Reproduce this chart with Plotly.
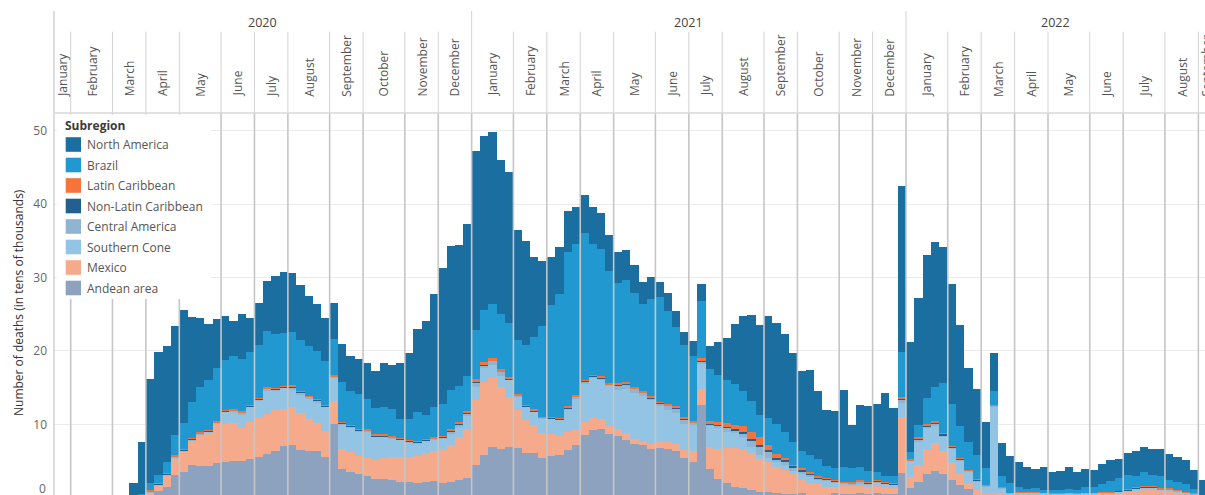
import plotly.graph_objects as go

# ---------------- data (weekly, in tens of thousands of deaths) ----------------
years = ["2020", "2021", "2022"]
month_names = ["January", "February", "March", "April", "May", "June", "July",
               "August", "September", "October", "November", "December"]
month_labels = month_names + month_names + month_names[:9]
weeks_per_month = [2, 5, 4, 4, 5, 4, 4, 5, 4, 5, 4, 4,
                   5, 4, 4, 4, 5, 4, 4, 5, 4, 5, 4, 4,
                   5, 4, 4, 4, 5, 4, 5, 4, 4]

andean = [0, 0, 0, 0, 0, 0, 0, 0, 0, 0,
          0.1, 0.4, 0.97, 1.46, 3.1, 3.55, 4.46, 4.3, 4.33, 4.78,
          4.9, 5.05, 5.05, 5.28, 5.6, 5.96, 6.37, 7.05, 7.2, 6.5,
          6.37, 6.37, 5.6, 10.0, 3.92, 3.46, 3.24, 3.0, 2.6, 2.5,
          2.4, 2.2, 2.2, 2.05, 2.2, 2.28, 2.05, 2.19, 2.42, 2.64,
          4.46, 5.82, 6.96, 6.64, 6.87, 6.73, 6.14, 6.05, 5.37, 5.69,
          5.82, 6.5, 7.18, 8.55, 9.23, 9.32, 8.68, 8.41, 7.87, 7.32,
          7.18, 6.64, 6.73, 6.6, 6.37, 5.46, 4.91, 12.63, 3.91, 2.5,
          2.05, 1.5, 1.28, 1.05, 0.73, 0.82, 0.6, 0.5, 0.5, 0.6,
          0.4, 0.37, 0.37, 0.6, 0.5, 0.5, 0.6, 0.5, 0.6, 0.5,
          0.45, 3.41, 1.28, 2.1, 3.23, 3.69, 3.23, 2.41, 1.73, 1.14,
          0.4, 0.2, 0.3, 0.3, 0.2, 0.2, 0.2, 0.2, 0.2, 0.2,
          0.2, 0.2, 0.2, 0.2, 0.2, 0.25, 0.25, 0.25, 0.3, 0.35,
          0.35, 0.35, 0.3, 0.3, 0.25, 0.2, 0.15, 0.05]

mexico = [0, 0, 0, 0, 0, 0, 0, 0, 0, 0,
          0.1, 0.25, 0.72, 1.56, 2.3, 2.75, 3.3, 4.2, 4.5, 5.3,
          5.1, 5.1, 4.5, 5.1, 5.3, 5.5, 5.6, 5.1, 5.2, 5.0,
          4.3, 3.8, 3.5, 3.18, 2.72, 2.8, 2.5, 2.5, 2.5, 2.9,
          3.1, 3.3, 3.4, 3.68, 3.85, 4.1, 4.45, 5.0, 5.9, 6.7,
          8.85, 10.0, 9.4, 8.5, 6.9, 5.2, 4.45, 3.86, 3.4, 3.0,
          2.6, 2.5, 2.15, 1.8, 1.6, 1.36, 1.1, 0.9, 0.9, 0.64,
          0.46, 0.68, 0.9, 1.0, 0.95, 1.04, 1.5, 2.14, 3.04, 4.1,
          4.77, 5.3, 5.2, 5.0, 4.5, 4.1, 3.6, 3.3, 2.7, 1.8,
          1.56, 1.45, 1.13, 0.9, 1.2, 1.1, 1.0, 1.0, 1.0, 1.0,
          0.9, 7.6, 1.5, 2.36, 3.37, 3.7, 3.1, 2.37, 1.68, 0.82,
          0.65, 0.3, 0.3, 0.3, 0.2, 0.3, 0.3, 0.3, 0.3, 0.25,
          0.25, 0.3, 0.25, 0.3, 0.3, 0.35, 0.3, 0.4, 0.5, 0.6,
          0.7, 0.7, 0.5, 0.45, 0.4, 0.3, 0.2, 0.05]

southern_cone = [0, 0, 0, 0, 0, 0, 0, 0, 0, 0,
                 0, 0.1, 0.05, 0.1, 0.1, 0.1, 0.1, 0.1, 0.15, 0.1,
                 1.7, 1.66, 1.7, 2.0, 2.3, 3.1, 2.7, 2.8, 2.3, 2.6,
                 2.9, 2.85, 3.3, 3.18, 3.4, 3.3, 3.3, 3.5, 3.2, 2.95,
                 2.6, 2.4, 1.9, 1.7, 1.75, 1.6, 1.6, 1.5, 1.36, 1.9,
                 1.8, 1.8, 1.7, 1.45, 2.3, 1.8, 1.8, 1.8, 2.05, 2.1,
                 2.2, 2.95, 4.2, 5.2, 5.6, 5.4, 5.45, 5.3, 6.1, 6.35,
                 6.2, 6.0, 5.0, 4.3, 4.2, 3.6, 3.5, 3.5, 2.85, 2.95,
                 2.2, 2.05, 1.8, 0.9, 0.6, 0.5, 0.7, 0.7, 0.5, 0.8,
                 0.9, 0.6, 0.8, 0.6, 0.25, 0.25, 0.4, 0.35, 0.45, 0.4,
                 0.4, 1.9, 2.25, 3.2, 2.9, 2.4, 2.05, 1.95, 1.7, 1.6,
                 1.2, 1.0, 11.8, 0.7, 0.2, 0.2, 0.15, 0.15, 0.1, 0.1,
                 0.1, 0.1, 0.1, 0.1, 0.1, 0.1, 0.1, 0.2, 0.2, 0.3,
                 0.35, 0.35, 0.3, 0.35, 0.25, 0.2, 0.15, 0.05]

central_america = [0, 0, 0, 0, 0, 0, 0, 0, 0, 0,
                   0, 0.05, 0.05, 0.05, 0.05, 0.05, 0.1, 0.1, 0.05, 0.05,
                   0.1, 0.05, 0.3, 0.05, 0.15, 0.25, 0.1, 0.05, 0.3, 0.25,
                   0.15, 0.2, 0.05, 0.1, 0.1, 0.15, 0.15, 0.1, 0.05, 0.05,
                   0.05, 0.05, 0.15, 0.1, 0.05, 0.05, 0.1, 0.3, 0.35, 0.25,
                   0.6, 0.45, 0.6, 0.55, 0.1, 0.15, 0.05, 0.1, 0.05, 0.05,
                   0.05, 0.2, 0.2, 0.3, 0.1, 0.2, 0.15, 0.7, 0.6, 0.5,
                   0.45, 0.15, 0.2, 0.6, 0.7, 0.6, 0.3, 0.3, 0.2, 0.3,
                   0.5, 0.35, 0.5, 0.8, 1.1, 0.9, 0.35, 0.4, 0.3, 0.35,
                   0.25, 0.25, 0.15, 0.1, 0.1, 0.1, 0.15, 0.15, 0.15, 0.1,
                   0.1, 0.45, 0.05, 0.25, 0.25, 0.3, 0.15, 0.1, 0.1, 0.1,
                   0.1, 0.1, 0.1, 0.05, 0.05, 0.05, 0.05, 0.05, 0.05, 0.05,
                   0.05, 0.05, 0.05, 0.05, 0.05, 0.05, 0.05, 0.05, 0.05, 0.05,
                   0.05, 0.05, 0.05, 0.05, 0.05, 0.05, 0.03, 0.02]

non_latin_caribbean = [0, 0, 0, 0, 0, 0, 0, 0, 0, 0,
                       0.05, 0.1, 0.08, 0.1, 0.1, 0.08, 0.08, 0.08, 0.08, 0.08,
                       0.08, 0.08, 0.08, 0.09, 0.1, 0.1, 0.1, 0.1, 0.15, 0.1,
                       0.1, 0.1, 0.1, 0.1, 0.1, 0.1, 0.1, 0.1, 0.1, 0.1,
                       0.1, 0.1, 0.1, 0.1, 0.08, 0.08, 0.08, 0.13, 0.13, 0.1,
                       0.15, 0.12, 0.1, 0.1, 0.1, 0.1, 0.08, 0.1, 0.08, 0.08,
                       0.08, 0.15, 0.1, 0.1, 0.08, 0.1, 0.08, 0.12, 0.12, 0.12,
                       0.1, 0.1, 0.1, 0.1, 0.1, 0.1, 0.1, 0.1, 0.1, 0.1,
                       0.15, 0.1, 0.15, 0.2, 0.25, 0.2, 0.15, 0.2, 0.35, 0.25,
                       0.15, 0.1, 0.1, 0.1, 0.05, 0.05, 0.1, 0.1, 0.1, 0.1,
                       0.1, 0.1, 0.05, 0.11, 0.15, 0.1, 0.2, 0.1, 0.07, 0.07,
                       0.07, 0.05, 0.05, 0.03, 0.02, 0.02, 0.02, 0.02, 0.02, 0.02,
                       0.02, 0.02, 0.02, 0.02, 0.02, 0.02, 0.02, 0.02, 0.02, 0.03,
                       0.03, 0.03, 0.03, 0.03, 0.03, 0.02, 0.02, 0.01]

latin_caribbean = [0, 0, 0, 0, 0, 0, 0, 0, 0, 0,
                   0.15, 0.15, 0.15, 0.15, 0.15, 0.12, 0.12, 0.12, 0.12, 0.12,
                   0.12, 0.12, 0.12, 0.12, 0.18, 0.2, 0.1, 0.1, 0.2, 0.15,
                   0.1, 0.15, 0.1, 0.16, 0.1, 0.1, 0.1, 0.1, 0.2, 0.2,
                   0.2, 0.15, 0.15, 0.15, 0.12, 0.12, 0.12, 0.2, 0.2, 0.2,
                   0.25, 0.25, 0.25, 0.25, 0.13, 0.2, 0.12, 0.13, 0.1, 0.12,
                   0.12, 0.2, 0.15, 0.15, 0.12, 0.15, 0.13, 0.18, 0.18, 0.2,
                   0.2, 0.3, 0.15, 0.2, 0.2, 0.25, 0.2, 0.3, 0.4, 0.4,
                   0.45, 0.6, 0.8, 1.0, 1.05, 0.7, 0.55, 0.3, 0.15, 0.2,
                   0.3, 0.2, 0.1, 0.1, 0.1, 0.1, 0.15, 0.1, 0.1, 0.1,
                   0.1, 0.2, 0.1, 0.3, 0.2, 0.2, 0.1, 0.1, 0.08, 0.08,
                   0.08, 0.05, 0.05, 0.03, 0.03, 0.03, 0.03, 0.03, 0.03, 0.03,
                   0.03, 0.03, 0.03, 0.03, 0.03, 0.03, 0.1, 0.05, 0.07, 0.07,
                   0.1, 0.1, 0.1, 0.1, 0.07, 0.05, 0.03, 0.02]

brazil = [0, 0, 0, 0, 0, 0, 0, 0, 0, 0,
          0.1, 0.9, 1.03, 1.45, 2.7, 3.54, 4.9, 6.2, 6.8, 7.2,
          6.7, 7.26, 7.1, 7.26, 7.17, 7.6, 7.3, 7.3, 7.2, 6.9,
          6.8, 6.45, 6.0, 4.9, 5.45, 4.6, 4.8, 4.1, 3.6, 3.6,
          3.6, 2.5, 2.8, 3.95, 3.27, 4.18, 4.36, 5.36, 4.9, 4.77,
          6.72, 7.13, 7.4, 7.5, 7.45, 7.27, 8.2, 9.8, 12.35, 15.2,
          16.85, 21.0, 20.57, 20.0, 17.85, 17.3, 15.3, 13.7, 13.85, 12.8,
          11.8, 13.2, 14.3, 12.7, 10.8, 9.8, 8.8, 7.85, 7.04, 6.36,
          5.9, 5.6, 4.77, 4.2, 3.0, 3.7, 4.1, 3.6, 3.1, 2.3,
          2.3, 2.3, 1.7, 1.7, 2.0, 1.9, 1.8, 1.5, 1.15, 0.8,
          0.9, 6.2, 1.04, 1.6, 3.5, 4.63, 6.8, 5.8, 4.4, 3.8,
          3.3, 2.3, 1.9, 1.55, 1.36, 0.6, 0.5, 0.6, 0.35, 0.4,
          0.4, 0.5, 0.45, 0.7, 0.7, 1.1, 1.46, 1.68, 1.96, 1.55,
          1.87, 1.51, 1.68, 1.13, 1.05, 1.05, 0.55, 0.2]

north_america = [0, 0, 0, 0, 0, 0, 0, 0, 0, 2.0,
                 7.1, 14.2, 16.8, 15.8, 14.9, 15.4, 11.5, 9.45, 7.6, 6.66,
                 6.0, 4.77, 6.2, 4.54, 5.78, 6.8, 7.9, 8.2, 8.0, 7.5,
                 6.8, 6.5, 5.8, 4.95, 5.1, 4.8, 4.7, 4.95, 5.0, 6.0,
                 6.0, 7.6, 9.0, 11.26, 12.72, 15.35, 18.57, 19.62, 19.16, 20.7,
                 24.4, 23.7, 23.43, 21.0, 20.57, 15.0, 14.1, 11.0, 8.85, 6.6,
                 6.45, 5.6, 5.0, 5.2, 5.0, 4.9, 4.9, 4.2, 4.1, 3.8,
                 3.0, 3.0, 2.04, 2.36, 2.05, 1.7, 2.1, 2.36, 3.13, 4.45,
                 5.8, 8.2, 10.2, 11.8, 12.3, 13.9, 13.8, 13.35, 12.1, 10.9,
                 11.6, 9.3, 7.6, 7.7, 10.45, 5.9, 8.4, 8.8, 9.2, 11.3,
                 9.3, 22.6, 14.94, 17.34, 19.4, 19.85, 18.5, 16.35, 13.76, 10.0,
                 9.0, 6.27, 5.2, 4.45, 3.6, 3.45, 2.9, 2.63, 3.18, 2.41,
                 2.59, 3.04, 2.36, 2.54, 2.41, 2.72, 2.86, 2.63, 2.95, 3.4,
                 3.45, 3.54, 3.68, 3.55, 3.4, 3.27, 2.63, 2.0]

y_ticks = [10, 20, 30, 40, 50]

# bottom-to-top stacking order
series = [
    ("Andean area", andean, "#8ca2bf"),
    ("Mexico", mexico, "#f5ab8b"),
    ("Southern Cone", southern_cone, "#93c4e3"),
    ("Central America", central_america, "#8fb5d1"),
    ("Non-Latin Caribbean", non_latin_caribbean, "#24608f"),
    ("Latin Caribbean", latin_caribbean, "#f4743b"),
    ("Brazil", brazil, "#2198d0"),
    ("North America", north_america, "#1b6ea0"),
]
for _, vals, _c in series:
    if len(vals) != len(north_america):
        raise ValueError("length mismatch %d" % len(vals))

weeks = list(range(len(north_america)))

# ---------------- geometry ----------------
W, H = 1205, 495
L, T = 54, 113
PX_PER_WEEK = 8.353
x_lo = -0.5
x_hi = -0.5 + (W - L) / PX_PER_WEEK
y_lo, y_hi = 0.37, 52.41

def py(y_px):
    return (H - y_px) / (H - T)

def pxp(x_px):
    return (x_px - L) / (W - L)

def week_to_px(w):
    return L + (w - x_lo) * PX_PER_WEEK

FONT = "Open Sans"

fig = go.Figure()
for name, vals, color in series:
    fig.add_trace(go.Bar(x=weeks, y=vals, name=name, width=1.0,
                         marker=dict(color=color, line=dict(width=0)),
                         showlegend=False, hoverinfo="skip"))

# month boundaries
bounds = [-0.5]
for n in weeks_per_month:
    bounds.append(bounds[-1] + n)
year_bounds = {bounds[12], bounds[24]}

shapes = []
line_plot = "#c6c6c6"
line_head = "#d3d3d3"
for b in bounds[1:]:
    if b >= x_hi:
        continue
    shapes.append(dict(type="line", xref="x", yref="paper", x0=b, x1=b,
                       y0=0, y1=1, layer="above",
                       line=dict(color=line_plot, width=1.6)))
    top = py(11) if b in year_bounds else py(31.7)
    shapes.append(dict(type="line", xref="x", yref="paper", x0=b, x1=b,
                       y0=1, y1=top, layer="above",
                       line=dict(color=line_head, width=1)))
# left axis line (full height incl. header)
shapes.append(dict(type="line", xref="paper", yref="paper", x0=0, x1=0,
                   y0=0, y1=py(11), layer="above",
                   line=dict(color=line_plot, width=1.2)))
# header bottom rule
shapes.append(dict(type="line", xref="paper", yref="paper", x0=0, x1=1,
                   y0=1, y1=1, layer="above",
                   line=dict(color="#d9d9d9", width=1.5)))
# legend background
shapes.append(dict(type="rect", xref="paper", yref="paper",
                   x0=pxp(57), x1=pxp(211), y0=py(299), y1=py(114.5),
                   fillcolor="white", line=dict(width=0), layer="above"))

annotations = []
# legend
legend_rows = [144.5, 165, 185.5, 206, 226.5, 247, 267.5, 288]
annotations.append(dict(text="<b>Subregion</b>", xref="paper", yref="paper",
                        x=pxp(63), y=py(125.5), xanchor="left", yanchor="middle",
                        showarrow=False, font=dict(family=FONT, size=12, color="#3a3a3a")))
for (name, _v, color), ry in zip(series[::-1], legend_rows):
    shapes.append(dict(type="rect", xref="paper", yref="paper",
                       x0=pxp(65.7), x1=pxp(81), y0=py(ry + 7.3), y1=py(ry - 7.3),
                       fillcolor=color, line=dict(width=0), layer="above"))
    annotations.append(dict(text=name, xref="paper", yref="paper",
                            x=pxp(85), y=py(ry), xanchor="left", yanchor="middle",
                            showarrow=False,
                            font=dict(family=FONT, size=12, color="#555555")))

# month labels (paper-referenced so the partly visible last one is kept)
for i, lab in enumerate(month_labels):
    c = (bounds[i] + bounds[i + 1]) / 2
    cx = week_to_px(c)
    if cx > W:
        cx = W + 1
    annotations.append(dict(text=lab, xref="paper", yref="paper", x=pxp(cx),
                            y=py(98.5), textangle=-90, showarrow=False,
                            xanchor="center", yanchor="bottom",
                            font=dict(family=FONT, size=12, color="#555555")))
# year labels
year_spans = [(bounds[0], bounds[12]), (bounds[12], bounds[24]), (bounds[24], x_hi)]
for yr, (a, b) in zip(years, year_spans):
    annotations.append(dict(text=yr, xref="x", yref="paper", x=(a + b) / 2,
                            y=py(22.7), showarrow=False, xanchor="center",
                            yanchor="middle",
                            font=dict(family=FONT, size=12.5, color="#444444")))
# y-axis title and clipped zero label
annotations.append(dict(text="Number of deaths (in tens of thousands)",
                        xref="paper", yref="paper", x=pxp(18), y=py(303),
                        textangle=-90, showarrow=False, xanchor="center",
                        yanchor="middle",
                        font=dict(family=FONT, size=12, color="#333333")))
annotations.append(dict(text="0", xref="paper", yref="paper", x=pxp(47.5),
                        y=py(488), showarrow=False, xanchor="right",
                        yanchor="middle",
                        font=dict(family=FONT, size=12, color="#666666")))

fig.update_layout(
    width=W, height=H,
    margin=dict(l=L, r=0, t=T, b=0, pad=0),
    barmode="stack", bargap=0,
    paper_bgcolor="white", plot_bgcolor="white",
    font=dict(family=FONT, size=12, color="#555555"),
    shapes=shapes, annotations=annotations,
    showlegend=False,
    xaxis=dict(range=[x_lo, x_hi], showticklabels=False, showgrid=False,
               zeroline=False, ticks="", fixedrange=True),
    yaxis=dict(range=[y_lo, y_hi], tickvals=y_ticks, showgrid=True,
               gridcolor="#ececec", gridwidth=1, zeroline=False, ticks="",
               ticklabelstandoff=6,
               tickfont=dict(family=FONT, size=12, color="#666666"),
               fixedrange=True),
)

fig.write_html(
    "out.html",
    config={"displayModeBar": False},
    post_script="document.body.style.margin='0px';document.body.style.overflow='hidden';",
)
